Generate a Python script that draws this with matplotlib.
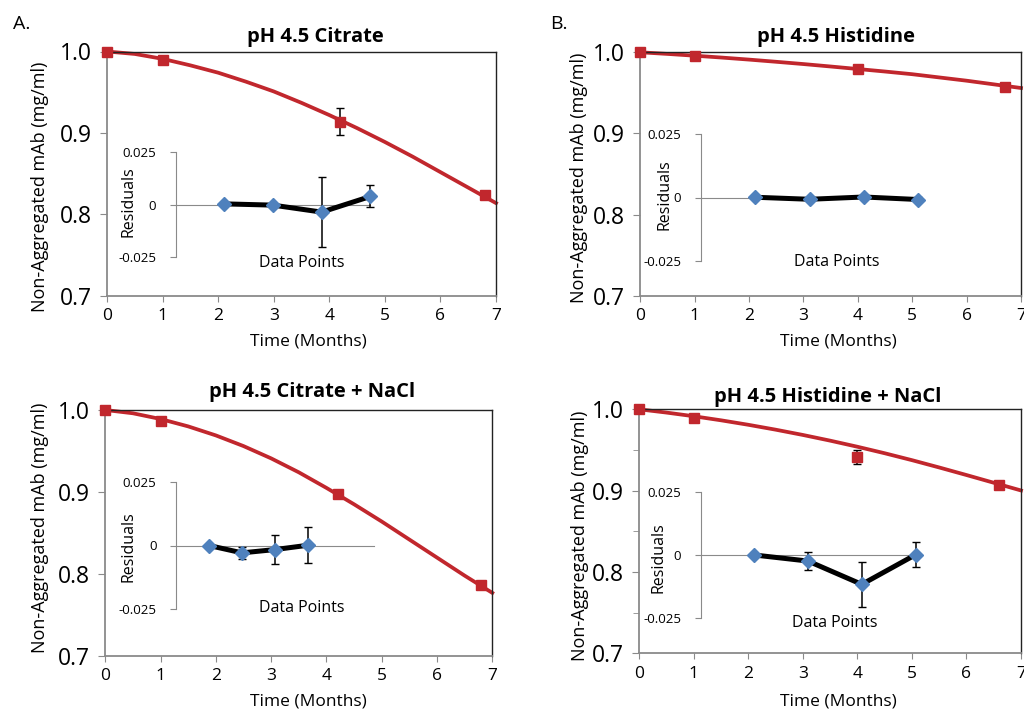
import matplotlib
matplotlib.use("Agg")
import matplotlib.pyplot as plt

plt.rcParams['font.family'] = ['Open Sans', 'DejaVu Sans']

W, H = 1024, 711
RED = "#c1272d"
BLUE = "#4f81bd"
GRAY = "#8a8a8a"

titles = ["pH 4.5 Citrate", "pH 4.5 Histidine",
          "pH 4.5 Citrate + NaCl", "pH 4.5 Histidine + NaCl"]

# measured points (months, mg/ml) and error bars
cit_t = [0, 1, 4.2, 6.8]
cit_y = [1.0, 0.990, 0.914, 0.824]
cit_err = [0, 0, 0.0165, 0.003]
his_t = [0, 1, 4.0, 6.7]
his_y = [1.0, 0.9958, 0.9794, 0.9572]
his_err = [0, 0, 0, 0.001]
citna_t = [0, 1, 4.2, 6.8]
citna_y = [1.0, 0.9866, 0.898, 0.7866]
citna_err = [0, 0, 0, 0.003]
hisna_t = [0, 1, 4.0, 6.6]
hisna_y = [1.0, 0.989, 0.9418, 0.9074]
hisna_err = [0, 0, 0.0086, 0]

# fitted curves every half month
fit_t = [0, 0.5, 1, 1.5, 2, 2.5, 3, 3.5, 4, 4.5, 5, 5.5, 6, 6.5, 7]
cit_fit = [1.0, 0.997, 0.991, 0.983, 0.974, 0.963, 0.951, 0.937, 0.922,
           0.906, 0.889, 0.871, 0.852, 0.833, 0.814]
his_fit = [1.0, 0.998, 0.9958, 0.9935, 0.991, 0.9883, 0.9855, 0.9825, 0.9794,
           0.9763, 0.973, 0.969, 0.965, 0.9605, 0.956]
citna_fit = [1.0, 0.996, 0.989, 0.980, 0.969, 0.956, 0.941, 0.924, 0.905,
             0.885, 0.864, 0.842, 0.820, 0.798, 0.777]
hisna_fit = [1.0, 0.996, 0.9915, 0.9865, 0.981, 0.975, 0.9685, 0.9615, 0.954,
             0.946, 0.9375, 0.9285, 0.9192, 0.9097, 0.9002]

# residuals (inset)
res_x = [1, 2, 3, 4]
cit_res = [0.0003, -0.0003, -0.0036, 0.0038]
cit_res_err = [0, 0, 0.0164, 0.0052]
his_res = [0.0001, -0.0007, 0.0002, -0.0008]
his_res_err = [0, 0, 0, 0.001]
citna_res = [0.0, -0.0029, -0.0016, 0.0001]
citna_res_err = [0, 0.0025, 0.0056, 0.0071]
hisna_res = [0.0, -0.0024, -0.0116, 0.0001]
hisna_res_err = [0, 0.0034, 0.0088, 0.0049]


def fx(px):
    return px / W


def fy(py):
    return 1 - py / H


def rect(l, t, r, b):
    return [fx(l), fy(b), fx(r) - fx(l), fy(t) - fy(b)]


panels = [
    dict(t=cit_t, y=cit_y, err=cit_err, fit=cit_fit, res=cit_res, rerr=cit_res_err,
         ax=(107, 51.5, 496, 296), inset=(175.7, 151.7, 370.3, 257.3), ixmax=4,
         title=(315, 37), ylab=(40, 187), xlab=(308, 341), res_lab=(128, 202),
         dp_lab=(302, 263), minor=False),
    dict(t=his_t, y=his_y, err=his_err, fit=his_fit, res=his_res, rerr=his_res_err,
         ax=(640.3, 52.3, 1021, 295.7), inset=(700.7, 134, 918.3, 261), ixmax=4,
         title=(836, 37), ylab=(579, 178), xlab=(838, 341), res_lab=(664, 195),
         dp_lab=(837, 262), minor=False),
    dict(t=citna_t, y=citna_y, err=citna_err, fit=citna_fit, res=citna_res, rerr=citna_res_err,
         ax=(105.3, 410, 492.3, 656), inset=(176, 482, 374, 609), ixmax=6,
         title=(312, 392), ylab=(40, 528), xlab=(308, 701), res_lab=(128, 547),
         dp_lab=(302, 608), minor=False),
    dict(t=hisna_t, y=hisna_y, err=hisna_err, fit=hisna_fit, res=hisna_res, rerr=hisna_res_err,
         ax=(639, 409.3, 1021, 653.3), inset=(700.7, 491.7, 915.5, 618.3), ixmax=4,
         title=(828, 397), ylab=(580, 536), xlab=(838, 701), res_lab=(659, 558),
         dp_lab=(835, 623), minor=True),
]

fig = plt.figure(figsize=(W / 100, H / 100), dpi=100)

for i, p in enumerate(panels):
    l, t, r, b = p["ax"]
    ax = fig.add_axes(rect(l, t, r, b))
    ax.plot(fit_t, p["fit"], color=RED, lw=2.7, zorder=2, clip_on=False,
            solid_joinstyle="round")
    ax.errorbar(p["t"], p["y"], yerr=p["err"], fmt="s", color=RED, ms=7,
                ecolor="black", elinewidth=1.1, capsize=3, zorder=3, clip_on=False)
    ax.set_xlim(0, 7)
    ax.set_ylim(0.7, 1.0)
    ax.set_xticks(range(8))
    ax.set_yticks([0.7, 0.8, 0.9, 1.0])
    ax.set_yticklabels(["0.7", "0.8", "0.9", "1.0"])
    if p["minor"]:
        ax.set_yticks([0.75, 0.85, 0.95], minor=True)
    ax.tick_params(axis="y", labelsize=16.5, color=GRAY, length=5, pad=6)
    ax.tick_params(axis="y", which="minor", color=GRAY, length=4)
    ax.tick_params(axis="x", labelsize=12.5, color=GRAY, length=4, pad=5)
    for s in ("left", "bottom"):
        ax.spines[s].set_color(GRAY)
        ax.spines[s].set_linewidth(1.3)
    for s in ("top", "right"):
        ax.spines[s].set_color("#222222")
        ax.spines[s].set_linewidth(1.0)

    fig.text(fx(p["title"][0]), fy(p["title"][1]), titles[i], ha="center",
             va="center", fontsize=14.5, fontweight="bold")
    fig.text(fx(p["ylab"][0]), fy(p["ylab"][1]), "Non-Aggregated mAb (mg/ml)",
             rotation=90, ha="center", va="center", fontsize=13)
    fig.text(fx(p["xlab"][0]), fy(p["xlab"][1]), "Time (Months)", ha="center",
             va="center", fontsize=12.5)

    # residual inset
    il, it, ir, ib = p["inset"]
    ia = fig.add_axes(rect(il, it, ir, ib))
    ia.patch.set_alpha(0)
    ia.errorbar(res_x, p["res"], yerr=p["rerr"], fmt="-", color="black", lw=3.6,
                ecolor="black", elinewidth=1.1, capsize=3, zorder=3, clip_on=False)
    ia.plot(res_x, p["res"], "D", color=BLUE, ms=7.5, zorder=4, clip_on=False)
    ia.set_xlim(0, p["ixmax"])
    ia.set_ylim(-0.025, 0.025)
    ia.spines["bottom"].set_position(("data", 0))
    ia.spines["bottom"].set_color(GRAY)
    ia.spines["left"].set_color(GRAY)
    ia.spines["top"].set_visible(False)
    ia.spines["right"].set_visible(False)
    ia.set_xticks([])
    ia.set_yticks([-0.025, 0, 0.025])
    ia.set_yticklabels(["-0.025", "0", "0.025"])
    ia.tick_params(axis="y", labelsize=9.5, color=GRAY, length=4, pad=10)
    fig.text(fx(p["res_lab"][0]), fy(p["res_lab"][1]), "Residuals", rotation=90,
             ha="center", va="center", fontsize=11.5)
    fig.text(fx(p["dp_lab"][0]), fy(p["dp_lab"][1]), "Data Points", ha="center",
             va="center", fontsize=11.5)

fig.text(fx(13), fy(24), "A.", ha="left", va="center", fontsize=14)
fig.text(fx(550), fy(24), "B.", ha="left", va="center", fontsize=14)

fig.savefig("out.png", dpi=100)
